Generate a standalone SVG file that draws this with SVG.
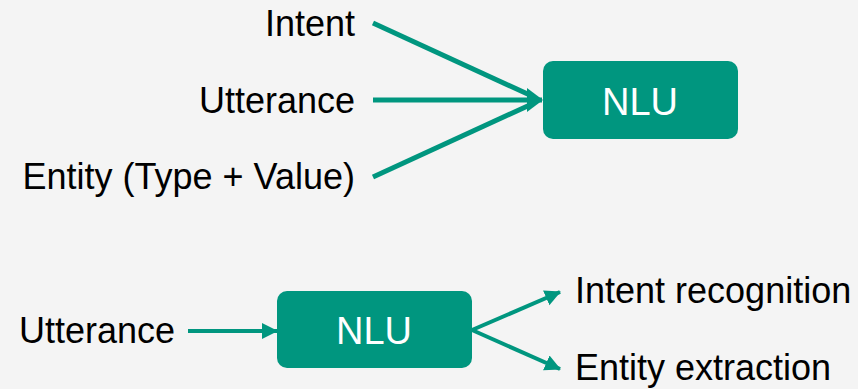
<svg xmlns="http://www.w3.org/2000/svg" width="858" height="389" viewBox="0 0 858 389">
<style>
.lbl{font-family:"Liberation Sans",Arial,sans-serif;font-size:36px;fill:#000}
.nlu{font-family:"Liberation Sans",Arial,sans-serif;font-size:38px;fill:#fff;text-anchor:middle}
.box{fill:#00967F}
.c{stroke:#00967F;fill:none}
</style>
<defs>
<marker id="ah" markerUnits="userSpaceOnUse" viewBox="0 0 16 24" refX="15" refY="12" markerWidth="16" markerHeight="24" orient="auto">
<path d="M0,0 L16,12 L0,24 Z" fill="#00967F"/>
</marker>
<marker id="ahb" markerUnits="userSpaceOnUse" viewBox="0 0 16 18" refX="15" refY="9" markerWidth="16" markerHeight="18" orient="auto">
<path d="M0,1 L16,9 L0,17 Z" fill="#00967F"/>
</marker>
</defs>
<rect width="858" height="389" fill="#F4F4F4"/>
<g id="label-intent"><text class="lbl" x="355" y="36" text-anchor="end">Intent</text></g>
<g id="label-utterance-top"><text class="lbl" x="355" y="113" text-anchor="end">Utterance</text></g>
<g id="label-entity"><text class="lbl" x="355" y="189" text-anchor="end">Entity (Type + Value)</text></g>
<g id="nlu-top"><rect class="box" x="543" y="61" width="195" height="78" rx="10"/><text class="nlu" x="640" y="115">NLU</text></g>
<g id="label-utterance-bottom"><text class="lbl" x="19" y="343">Utterance</text></g>
<g id="nlu-bottom"><rect class="box" x="277" y="291" width="195" height="77" rx="10"/><text class="nlu" x="374" y="344">NLU</text></g>
<g id="label-intent-recognition"><text class="lbl" x="575" y="303">Intent recognition</text></g>
<g id="label-entity-extraction"><text class="lbl" x="575" y="380">Entity extraction</text></g>
<g id="connectors">
<line class="c" stroke-width="5" x1="373" y1="23" x2="532" y2="96"/>
<line class="c" stroke-width="5" x1="373" y1="177" x2="532" y2="104"/>
<line class="c" stroke-width="5" x1="373" y1="100" x2="542" y2="100" marker-end="url(#ah)"/>
<line class="c" stroke-width="4" x1="188" y1="331" x2="277" y2="331" marker-end="url(#ahb)"/>
<line class="c" stroke-width="4" x1="472" y1="330" x2="560" y2="292" marker-end="url(#ahb)"/>
<line class="c" stroke-width="4" x1="472" y1="330" x2="560" y2="369" marker-end="url(#ahb)"/>
</g>
</svg>
